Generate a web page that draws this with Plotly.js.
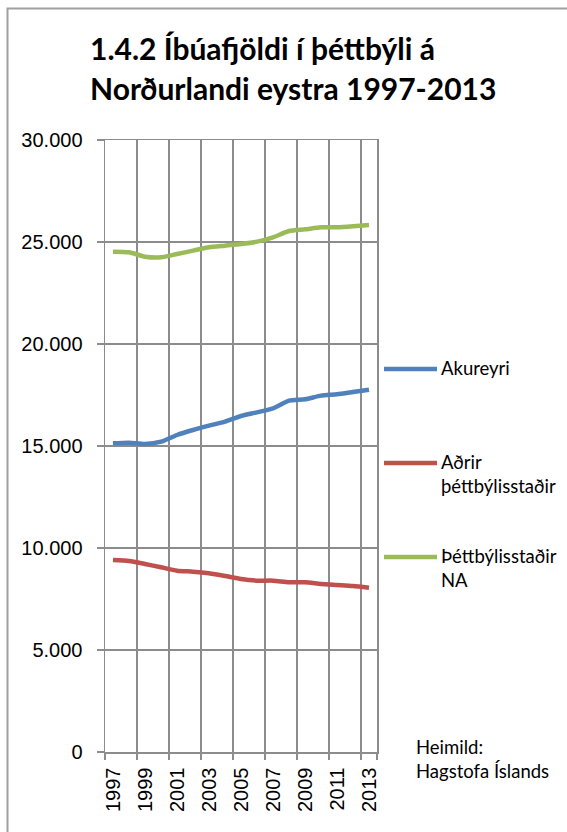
<!DOCTYPE html>
<html>
<head>
<meta charset="utf-8">
<script src="https://cdn.plot.ly/plotly-3.0.1.min.js"></script>
<style>
html,body{margin:0;padding:0;background:#fff;}
#chart{width:567px;height:832px;}
</style>
</head>
<body>
<div id="chart"></div>
<script>
const years = ["1997","1998","1999","2000","2001","2002","2003","2004","2005","2006","2007","2008","2009","2010","2011","2012","2013"];
const akureyri = [15131,15163,15098,15212,15539,15784,15997,16193,16471,16651,16847,17222,17288,17468,17533,17647,17761];
const adrir = [9412,9363,9216,9053,8889,8840,8758,8627,8480,8399,8399,8317,8317,8235,8186,8137,8055];
const thettbyli = [24525,24493,24280,24248,24412,24575,24739,24820,24902,25016,25229,25539,25621,25719,25719,25768,25833];
const seriesNames = ["Akureyri","Aðrir<br>þéttbýlisstaðir","Þéttbýlisstaðir<br>NA"];
const seriesColors = ["#4F81BD","#C0504D","#9BBB59"];
const yTicks = [0,5000,10000,15000,20000,25000,30000];
const titleLines = ["1.4.2 Íbúafjöldi í þéttbýli á", "Norðurlandi eystra 1997-2013"];
const sourceText = "Heimild:<br>Hagstofa Íslands";

const seriesValues = [akureyri, adrir, thettbyli];
const traces = seriesValues.map((vals, i) => ({
  type: "scatter",
  mode: "lines",
  x: years,
  y: vals,
  name: seriesNames[i],
  showlegend: false,
  line: {color: seriesColors[i], width: 4.5, shape: "spline", smoothing: 0.6},
  hoverinfo: "x+y"
}));

// pixel -> paper helpers (plot area: x 105..377, y 140..752)
const PL = 105, PW = 272, PB = 752, PH = 612;
const px = v => (v - PL) / PW;
const py = v => (PB - v) / PH;

const legendFont = {family: "Lato, Carlito, sans-serif", size: 18.5, color: "#000"};
const legendRowsY = [369, 463, 557];
const legendShapes = seriesNames.map((n, i) => ({
  type: "line", xref: "paper", yref: "paper",
  x0: px(384), x1: px(437), y0: py(legendRowsY[i]), y1: py(legendRowsY[i]),
  line: {color: seriesColors[i], width: 4.5}
}));
const legendAnns = seriesNames.map((n, i) => ({
  text: n, xref: "paper", yref: "paper",
  x: px(440), xanchor: "left",
  y: py(legendRowsY[i] - 13), yanchor: "top",
  align: "left", showarrow: false, borderpad: 0,
  font: legendFont
}));

const titleRowsY = [48, 88];
const titleAnns = titleLines.map((t, i) => ({
  text: "<b>" + t + "</b>",
  xref: "paper", yref: "paper",
  x: px(89), xanchor: "left",
  y: py(titleRowsY[i]), yanchor: "middle",
  align: "left", showarrow: false, borderpad: 0,
  font: {family: "Lato, Carlito, sans-serif", size: 30, color: "#000"}
}));

const gridC = "#8c8c8c";
const layout = {
  width: 567,
  height: 832,
  margin: {l: 105, r: 190, t: 140, b: 80},
  paper_bgcolor: "#ffffff",
  plot_bgcolor: "#ffffff",
  separators: ",.",
  font: {family: "Liberation Sans, Arial, sans-serif", color: "#000"},
  xaxis: {
    type: "category",
    range: [-0.5, 16.5],
    tickson: "boundaries",
    tickvals: years.filter((y, i) => i % 2 === 0),
    ticktext: years.filter((y, i) => i % 2 === 0),
    tickangle: -90,
    tickfont: {size: 20, family: "Liberation Sans, Arial, sans-serif"},
    ticks: "outside", ticklen: 6, tickcolor: gridC, tickwidth: 1.5,
    ticklabelstandoff: 6,
    showgrid: true, gridcolor: gridC, gridwidth: 1.5,
    showline: true, linecolor: gridC, linewidth: 1.5, mirror: true,
    zeroline: false, fixedrange: true
  },
  yaxis: {
    range: [0, 30000],
    tickvals: yTicks,
    tickformat: ",d",
    tickfont: {size: 20, family: "Liberation Sans, Arial, sans-serif"},
    ticks: "outside", ticklen: 7, tickcolor: gridC, tickwidth: 1.5,
    ticklabelstandoff: 10,
    showgrid: true, gridcolor: gridC, gridwidth: 1.5,
    showline: true, linecolor: gridC, linewidth: 1.5, mirror: true,
    zeroline: false, fixedrange: true
  },
  showlegend: false,
  annotations: titleAnns.concat(legendAnns, [{
    text: sourceText,
    xref: "paper", yref: "paper",
    x: px(415), xanchor: "left",
    y: py(735), yanchor: "top",
    align: "left",
    showarrow: false, borderpad: 0,
    font: legendFont
  }]),
  shapes: legendShapes.concat([{
    type: "path",
    xref: "paper", yref: "paper",
    path: "M " + px(7.5) + "," + py(900) +
          " L " + px(7.5) + "," + py(8.5) +
          " L " + px(600) + "," + py(8.5),
    line: {color: "#a0a0a0", width: 2}
  }])
};

Plotly.newPlot("chart", traces, layout, {displayModeBar: false, staticPlot: true});
</script>
</body>
</html>
